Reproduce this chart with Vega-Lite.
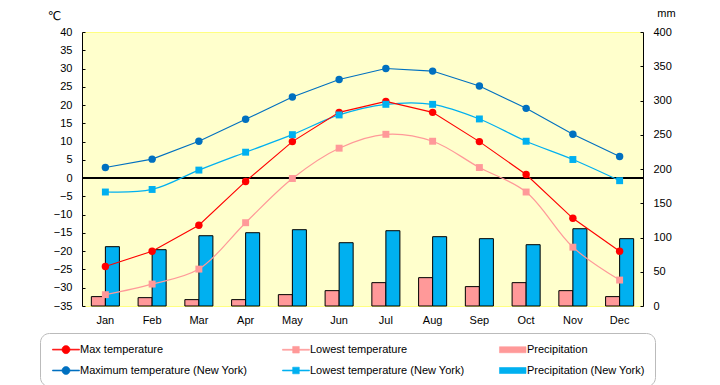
{
  "$schema": "https://vega.github.io/schema/vega-lite/v6.json",
  "width": 561,
  "height": 274,
  "autosize": {"type": "none"},
  "padding": {"left": 82, "top": 32, "right": 77, "bottom": 79},
  "background": "white",
  "config": {
    "font": "Liberation Sans",
    "view": {"fill": "#FFFFCC", "stroke": "#FFFF80", "strokeWidth": 1},
    "axis": {"labelFont": "Liberation Sans", "labelFontSize": 11, "labelColor": "black", "grid": false}
  },
  "data": {"values": [
    {"m":"Jan","s":"Max temperature","v":-24.2},{"m":"Feb","s":"Max temperature","v":-20.0},{"m":"Mar","s":"Max temperature","v":-12.9},{"m":"Apr","s":"Max temperature","v":-0.9},{"m":"May","s":"Max temperature","v":10.0},{"m":"Jun","s":"Max temperature","v":18.0},{"m":"Jul","s":"Max temperature","v":21.0},{"m":"Aug","s":"Max temperature","v":18.0},{"m":"Sep","s":"Max temperature","v":10.0},{"m":"Oct","s":"Max temperature","v":1.0},{"m":"Nov","s":"Max temperature","v":-11.0},{"m":"Dec","s":"Max temperature","v":-20.0},
    {"m":"Jan","s":"Lowest temperature","v":-31.9},{"m":"Feb","s":"Lowest temperature","v":-29.0},{"m":"Mar","s":"Lowest temperature","v":-24.9},{"m":"Apr","s":"Lowest temperature","v":-12.2},{"m":"May","s":"Lowest temperature","v":-0.1},{"m":"Jun","s":"Lowest temperature","v":8.2},{"m":"Jul","s":"Lowest temperature","v":12.0},{"m":"Aug","s":"Lowest temperature","v":10.1},{"m":"Sep","s":"Lowest temperature","v":2.9},{"m":"Oct","s":"Lowest temperature","v":-3.8},{"m":"Nov","s":"Lowest temperature","v":-18.9},{"m":"Dec","s":"Lowest temperature","v":-27.9},
    {"m":"Jan","s":"Maximum temperature (New York)","v":2.9},{"m":"Feb","s":"Maximum temperature (New York)","v":5.2},{"m":"Mar","s":"Maximum temperature (New York)","v":10.1},{"m":"Apr","s":"Maximum temperature (New York)","v":16.1},{"m":"May","s":"Maximum temperature (New York)","v":22.2},{"m":"Jun","s":"Maximum temperature (New York)","v":27.0},{"m":"Jul","s":"Maximum temperature (New York)","v":30.0},{"m":"Aug","s":"Maximum temperature (New York)","v":29.3},{"m":"Sep","s":"Maximum temperature (New York)","v":25.2},{"m":"Oct","s":"Maximum temperature (New York)","v":19.1},{"m":"Nov","s":"Maximum temperature (New York)","v":12.0},{"m":"Dec","s":"Maximum temperature (New York)","v":5.9},
    {"m":"Jan","s":"Lowest temperature (New York)","v":-3.8},{"m":"Feb","s":"Lowest temperature (New York)","v":-3.1},{"m":"Mar","s":"Lowest temperature (New York)","v":2.2},{"m":"Apr","s":"Lowest temperature (New York)","v":7.1},{"m":"May","s":"Lowest temperature (New York)","v":11.9},{"m":"Jun","s":"Lowest temperature (New York)","v":17.3},{"m":"Jul","s":"Lowest temperature (New York)","v":20.2},{"m":"Aug","s":"Lowest temperature (New York)","v":20.2},{"m":"Sep","s":"Lowest temperature (New York)","v":16.2},{"m":"Oct","s":"Lowest temperature (New York)","v":10.1},{"m":"Nov","s":"Lowest temperature (New York)","v":5.1},{"m":"Dec","s":"Lowest temperature (New York)","v":-0.7},
    {"m":"Jan","s":"Precipitation","v":13.7},{"m":"Feb","s":"Precipitation","v":12.2},{"m":"Mar","s":"Precipitation","v":9.3},{"m":"Apr","s":"Precipitation","v":9.3},{"m":"May","s":"Precipitation","v":16.6},{"m":"Jun","s":"Precipitation","v":22.4},{"m":"Jul","s":"Precipitation","v":34.1},{"m":"Aug","s":"Precipitation","v":41.4},{"m":"Sep","s":"Precipitation","v":28.3},{"m":"Oct","s":"Precipitation","v":34.1},{"m":"Nov","s":"Precipitation","v":22.4},{"m":"Dec","s":"Precipitation","v":13.7},
    {"m":"Jan","s":"Precipitation (New York)","v":86.6},{"m":"Feb","s":"Precipitation (New York)","v":82.2},{"m":"Mar","s":"Precipitation (New York)","v":102.6},{"m":"Apr","s":"Precipitation (New York)","v":107.0},{"m":"May","s":"Precipitation (New York)","v":111.4},{"m":"Jun","s":"Precipitation (New York)","v":92.4},{"m":"Jul","s":"Precipitation (New York)","v":109.9},{"m":"Aug","s":"Precipitation (New York)","v":101.2},{"m":"Sep","s":"Precipitation (New York)","v":98.3},{"m":"Oct","s":"Precipitation (New York)","v":89.5},{"m":"Nov","s":"Precipitation (New York)","v":112.8},{"m":"Dec","s":"Precipitation (New York)","v":98.3}
  ]},
  "layer": [
    {
      "transform": [{"filter": {"field": "s", "oneOf": ["Precipitation", "Precipitation (New York)"]}}],
      "mark": {"type": "bar", "stroke": "black", "strokeWidth": 1},
      "encoding": {
        "x": {"field": "m", "type": "nominal",
          "scale": {"domain": ["Jan","Feb","Mar","Apr","May","Jun","Jul","Aug","Sep","Oct","Nov","Dec"], "paddingInner": 0.4, "paddingOuter": 0.2},
          "axis": {"title": null, "domain": false, "ticks": false, "labelAngle": 0, "labelPadding": 8, "labelFontSize": 11}},
        "xOffset": {"field": "s", "type": "nominal", "scale": {"domain": ["Precipitation", "Precipitation (New York)"]}},
        "y": {"field": "v", "type": "quantitative",
          "scale": {"domain": [0, 400], "nice": false, "zero": true},
          "axis": {"orient": "right", "values": [0,50,100,150,200,250,300,350,400], "title": "mm", "titleAngle": 0, "titleX": 23, "titleY": -19, "titleAlign": "center", "titleBaseline": "middle", "titleFontWeight": "normal", "titleFontSize": 11, "titleFont": "Liberation Sans", "domainColor": "black", "domainWidth": 1, "tickColor": "black", "tickSize": -3, "labelPadding": 13}},
        "color": {"field": "s", "type": "nominal",
          "scale": {"domain": ["Max temperature", "Lowest temperature", "Precipitation", "Maximum temperature (New York)", "Lowest temperature (New York)", "Precipitation (New York)"],
                    "range": ["#FF0000", "#FF9999", "#FF9999", "#0070C0", "#00B0F0", "#00B0F0"]},
          "legend": {"title": null, "orient": "none", "legendX": -42, "legendY": 301, "columns": 3, "direction": "horizontal",
            "padding": 10, "strokeColor": "#BBBBBB", "cornerRadius": 9,
            "labelFont": "Liberation Sans", "labelFontSize": 11, "labelColor": "black", "labelOffset": 17, "labelLimit": 300,
            "columnPadding": 32, "rowPadding": 9, "symbolSize": 144, "symbolStrokeWidth": 0.6, "symbolOpacity": 1}
        }
      }
    },
    {
      "encoding": {
        "y": {"field": "v", "type": "quantitative",
          "scale": {"domain": [-35, 40], "nice": false, "zero": false},
          "axis": {"orient": "left", "values": [-35,-30,-25,-20,-15,-10,-5,0,5,10,15,20,25,30,35,40], "title": "℃", "titleAngle": 0, "titleX": -28, "titleY": -17, "titleAlign": "center", "titleBaseline": "middle", "titleFontWeight": "normal", "titleFontSize": 12, "titleFont": "DejaVu Sans", "domainColor": "black", "domainWidth": 1, "tickColor": "black", "tickSize": -3, "labelPadding": 13}}
      },
      "layer": [
        {"mark": {"type": "rule", "color": "black", "strokeWidth": 1}, "encoding": {"y": {"datum": 0}}},
        {"transform": [{"filter": {"field": "s", "oneOf": ["Lowest temperature", "Lowest temperature (New York)"]}}],
         "mark": {"type": "line", "interpolate": "catmull-rom", "strokeWidth": 1.2},
         "encoding": {"x": {"field": "m", "type": "nominal"}, "color": {"field": "s", "type": "nominal"}, "detail": {"field": "s"}}},
        {"transform": [{"filter": {"field": "s", "oneOf": ["Max temperature", "Maximum temperature (New York)"]}}],
         "mark": {"type": "line", "strokeWidth": 1.1},
         "encoding": {"x": {"field": "m", "type": "nominal"}, "color": {"field": "s", "type": "nominal"}, "detail": {"field": "s"}}},
        {"transform": [{"filter": {"field": "s", "oneOf": ["Max temperature", "Maximum temperature (New York)"]}}],
         "mark": {"type": "point", "shape": "circle", "filled": true, "opacity": 1, "size": 55},
         "encoding": {"x": {"field": "m", "type": "nominal"}, "color": {"field": "s", "type": "nominal"}}},
        {"transform": [{"filter": {"field": "s", "oneOf": ["Lowest temperature", "Lowest temperature (New York)"]}}],
         "mark": {"type": "point", "shape": "square", "filled": true, "opacity": 1, "size": 48},
         "encoding": {"x": {"field": "m", "type": "nominal"}, "color": {"field": "s", "type": "nominal"}}},
        {"mark": {"type": "point", "filled": true, "opacity": 0, "size": 1},
         "encoding": {"x": {"field": "m", "type": "nominal"},
           "shape": {"field": "s", "type": "nominal",
             "scale": {"domain": ["Max temperature", "Lowest temperature", "Precipitation", "Maximum temperature (New York)", "Lowest temperature (New York)", "Precipitation (New York)"],
                       "range": ["M-0.67,-0.08H3.83V0.08H-0.67Z M2.25,0A0.67,0.67,0,1,1,0.91,0A0.67,0.67,0,1,1,2.25,0Z", "M-0.67,-0.08H3.83V0.08H-0.67Z M1.03,-0.55H2.13V0.55H1.03Z", "M-0.67,-0.5H3.75V0.5H-0.67Z", "M-0.67,-0.08H3.83V0.08H-0.67Z M2.25,0A0.67,0.67,0,1,1,0.91,0A0.67,0.67,0,1,1,2.25,0Z", "M-0.67,-0.08H3.83V0.08H-0.67Z M1.03,-0.55H2.13V0.55H1.03Z", "M-0.67,-0.5H3.75V0.5H-0.67Z"]},
             "legend": {"title": null}}}}
      ]
    }
  ],
  "resolve": {"scale": {"y": "independent"}}
}
